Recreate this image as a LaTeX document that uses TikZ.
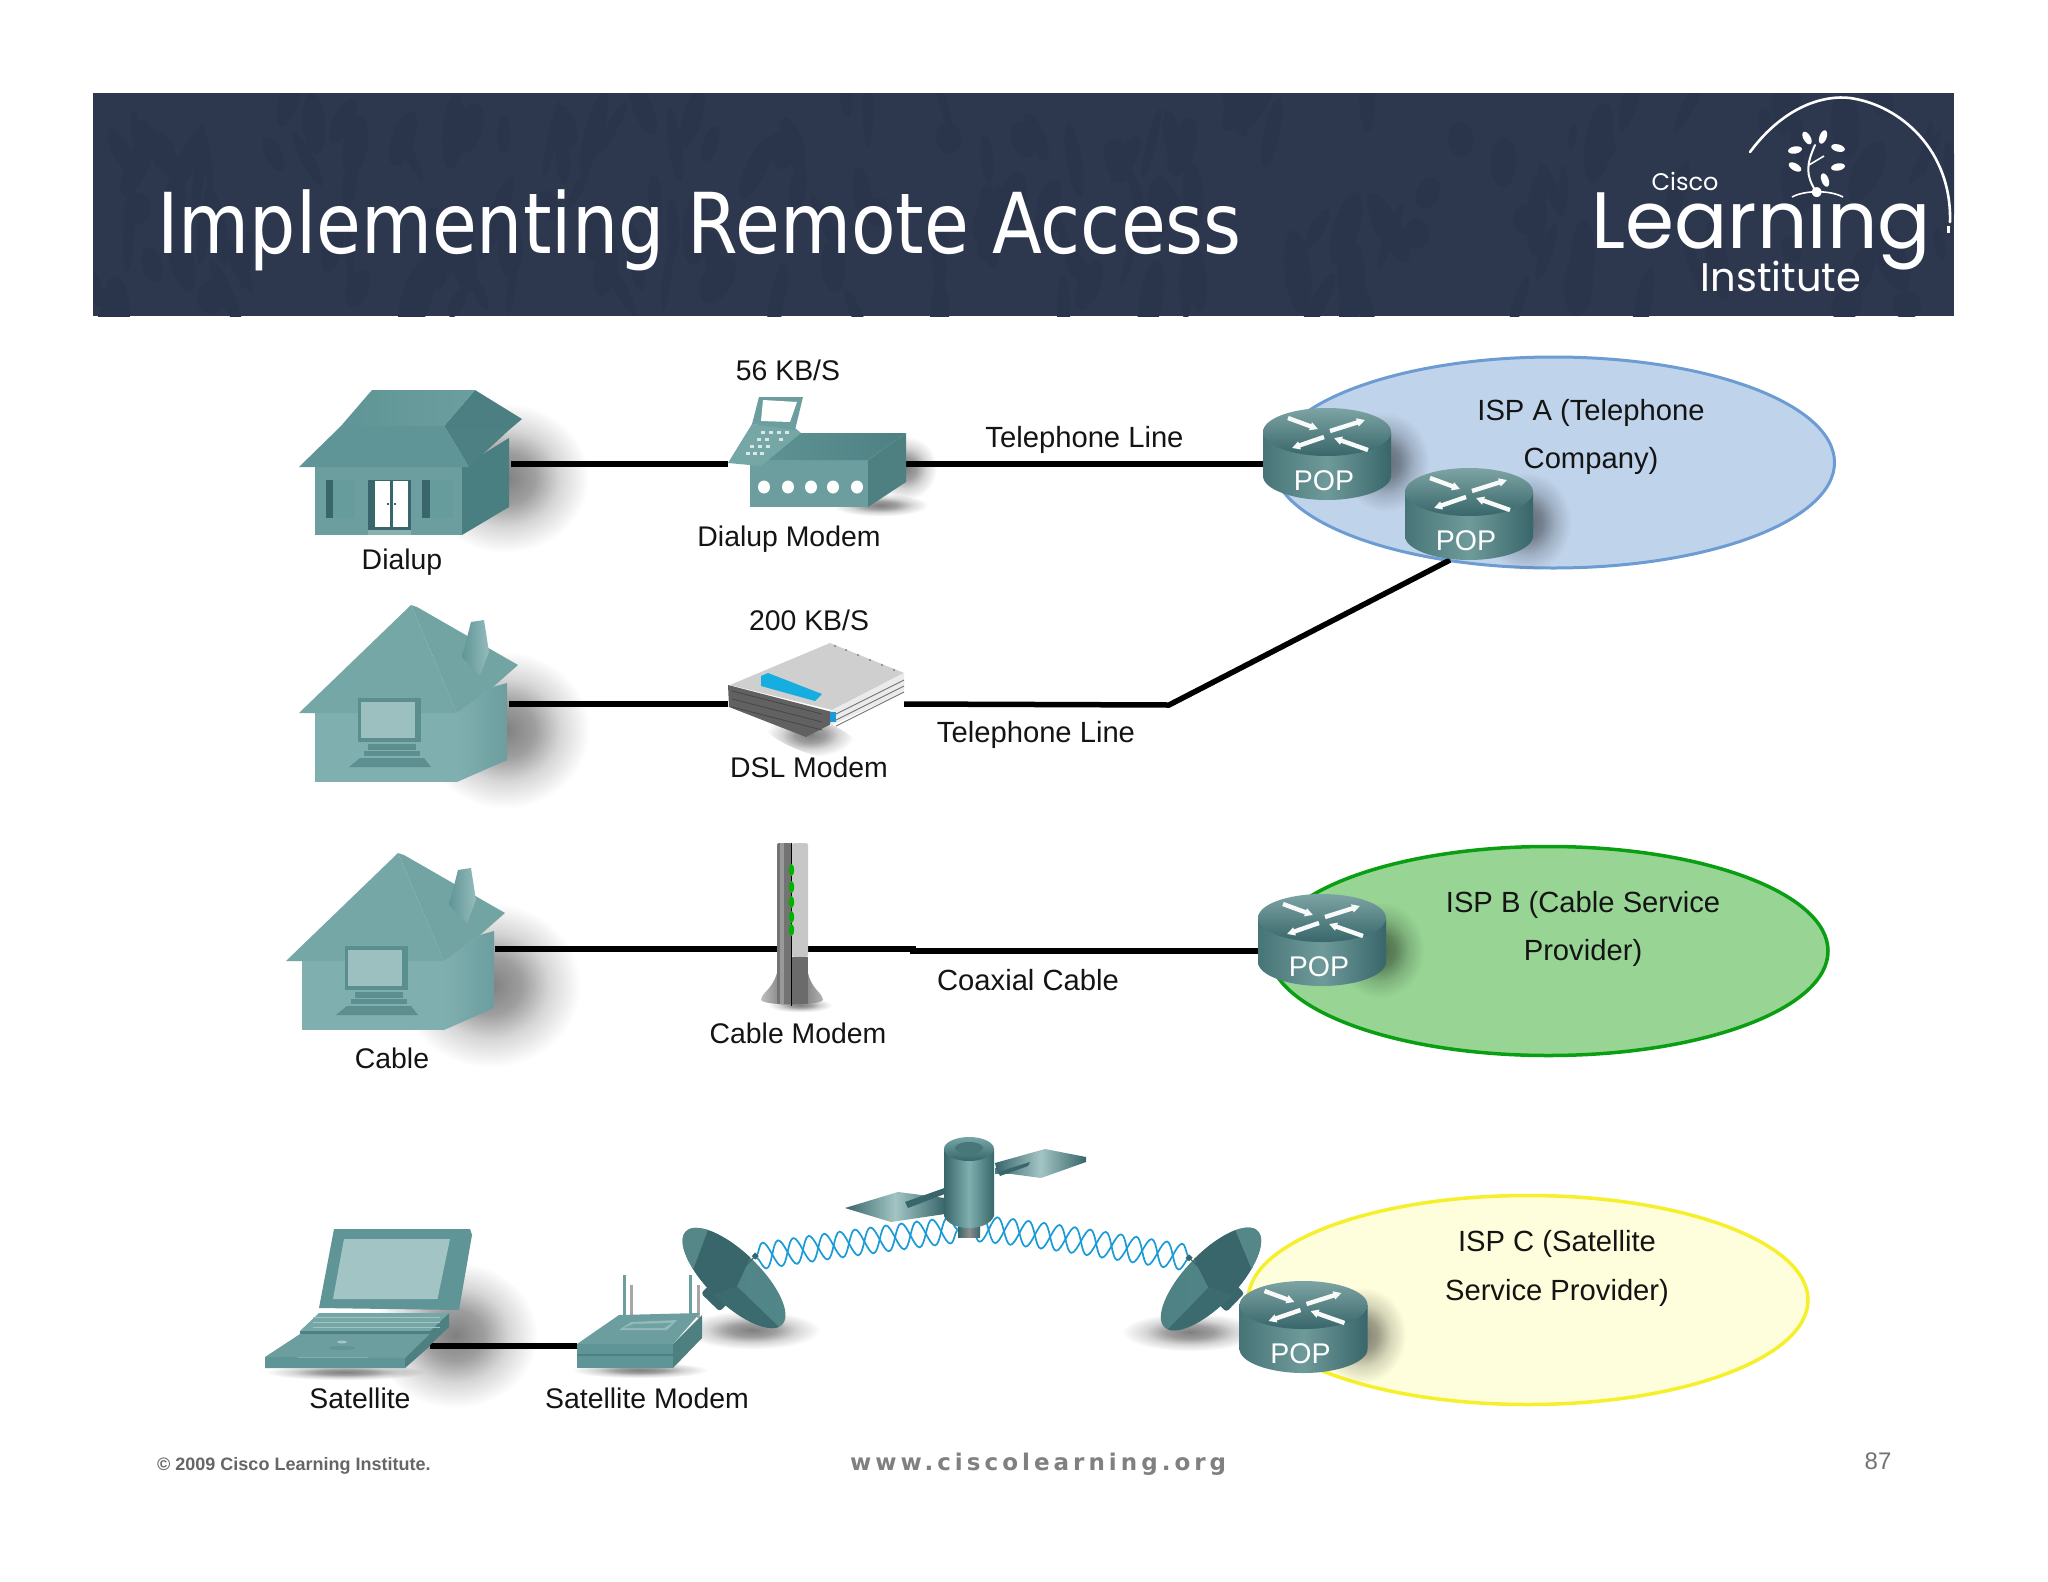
\documentclass[tikz,border=0pt]{standalone}
\usepackage{fontspec}
\setmainfont{Liberation Sans}
\newfontfamily\titlefont[FakeStretch=0.868]{DejaVu Sans}
\newfontfamily\logofont{Poppins}
\newfontfamily\learnfont[FakeStretch=0.987]{Poppins}
\newfontfamily\urlfont[LetterSpace=17.5]{DejaVu Sans}
\usetikzlibrary{arrows.meta,decorations.pathmorphing,fadings,shadings}
\pgfdeclareradialshading{softg}{\pgfpointorigin}{color(0bp)=(pgftransparent!50); color(7bp)=(pgftransparent!62); color(13bp)=(pgftransparent!84); color(20bp)=(pgftransparent!100); color(50bp)=(pgftransparent!100)}
\tikzfading[name=softblob, shading=softg]
\definecolor{hdr}{HTML}{2D384E}
\definecolor{hdrdark}{HTML}{2A344A}
\definecolor{tealA}{HTML}{5F9596}
\definecolor{tealB}{HTML}{6C9E9F}
\definecolor{tealC}{HTML}{4A7F81}
\definecolor{tealD}{HTML}{80AFAF}
\definecolor{tealE}{HTML}{76A7A7}
\definecolor{tealF}{HTML}{A3C4C4}
\definecolor{tealG}{HTML}{4E8082}
\definecolor{tealH}{HTML}{38666A}
\definecolor{rim}{HTML}{477577}
\definecolor{rimlight}{HTML}{6F9A9A}
\definecolor{wavec}{HTML}{1B9AD8}
\definecolor{ispAf}{HTML}{BFD3EA}
\definecolor{ispAs}{HTML}{6C9CD2}
\definecolor{ispBf}{HTML}{98D595}
\definecolor{ispBs}{HTML}{0A9E12}
\definecolor{ispCf}{HTML}{FEFEDC}
\definecolor{ispCs}{HTML}{F6F02C}
\newcommand{\softblob}[5]{\fill[black,path fading=softblob,rotate around={#5:(#1,#2)}] (#1,#2) ellipse [x radius=#3,y radius=#4];}
\newcommand{\cottageart}{%
  \fill[tealD] (315,713) -- (457,713) -- (457,782) -- (315,782) -- cycle;
  \shade[left color=tealD,right color=tealB] (457,713) -- (493,687) -- (507,683) -- (507,760) -- (457,782) -- cycle;
  \fill[tealE] (411,605) -- (299,713) -- (457,713) -- cycle;
  \fill[tealE!85!tealA] (417,607) -- (518,665) -- (493,687) -- (457,713) -- (411,605) -- cycle;
  \shade[left color=tealA,right color=tealF!60!tealD] (462,657) -- (471,622) -- (484,620) -- (489,652) -- (480,675) -- cycle;
  \fill[tealC!70!tealD] (358,698) -- (421,698) -- (421,742) -- (358,742) -- cycle;
  \fill[tealF!80!tealD] (361,702) -- (415,702) -- (415,738) -- (361,738) -- cycle;
  \fill[tealG!70!tealD] (368,744) -- (416,744) -- (416,750) -- (368,750) -- cycle;
  \fill[tealG!70!tealD] (364,751) -- (420,751) -- (420,756) -- (364,756) -- cycle;
  \fill[tealG!70!tealD] (349,767) -- (360,758) -- (424,758) -- (431,767) -- cycle;
}
\newcommand{\dishart}{%
  \fill[tealH,rounded corners=3pt] (-13,12) rectangle (13,34);
  \begin{scope}
    \clip (0,0) ellipse [x radius=67,y radius=26];
    \shade[left color=tealG,right color=tealC!60!tealA] (-70,-30) rectangle (70,30);
    \fill[tealH] (-60,-30) -- (-4,-30) -- (8,4) -- (-4,30) -- (-34,30) -- cycle;
    \fill[tealG!75!tealB] (-72,-30) -- (-58,-30) -- (-32,30) -- (-72,30) -- cycle;
    \fill[tealH!80!tealG] (8,4) -- (70,4) -- (70,30) -- (-4,30) -- cycle;
  \end{scope}
  \draw[tealH,line width=1pt] (0,4) -- (0,-30);
  \fill[tealH] (-2.5,-33) rectangle (2.5,-28);
}
\tikzset{
  lab/.style={inner sep=0pt,text=black!92,font=\fontsize{28.4}{30}\selectfont},
  labbig/.style={lab,font=\fontsize{29.2}{31}\selectfont},
  dev/.style={inner sep=0pt,minimum height=4pt},
  wire/.style={line width=5.5pt,black},
  wave/.style={wavec,line width=1.7pt,decorate,decoration={snake,segment length=31pt,amplitude=13pt}},
  ispA/.style={fill=ispAf,draw=ispAs,line width=3pt},
  ispB/.style={fill=ispBf,draw=ispBs,line width=3.5pt},
  ispC/.style={fill=ispCf,draw=ispCs,line width=3.5pt},
  rarrow/.style={white!92!tealF,line width=4.4pt,-{Triangle[length=8pt,width=8pt]}},
  router/.pic={
    \shade[left color=rim,right color=tealH,middle color=rimlight]
      (-64,24) -- (-64,68) .. controls (-64,81) and (-35,92) .. (0,92)
      .. controls (35,92) and (64,81) .. (64,68) -- (64,24) -- cycle;
    \shade[top color=rimlight!90!white,bottom color=tealH] (0,24) ellipse [x radius=64,y radius=24];
    \draw[rarrow] (-39,10) -- (-9,21);
    \draw[rarrow] (3,23) -- (38,12);
    \draw[rarrow] (-3,29) -- (-35,40);
    \draw[rarrow] (41,42) -- (7,30);
    \node[inner sep=0pt,text=white,font=\fontsize{28.5}{30}\selectfont] (-tag) at (-3,73) {POP};
  }
}
\begin{document}
\begin{tikzpicture}[x=1pt,y=-1pt]
\useasboundingbox (0,0) rectangle (2048,1582);
\fill[white] (0,0) rectangle (2048,1582);
% header
\fill[hdr] (93,93) rectangle (1954,316);
\begin{scope}
  \clip (93,93) rectangle (1954,316);
  \pgfmathsetseed{11}
  \foreach \i in {1,...,170}{
    \pgfmathsetmacro{\xa}{93+1861*rnd}
    \pgfmathsetmacro{\ya}{93+223*rnd}
    \pgfmathsetmacro{\ra}{4+11*rnd}
    \pgfmathsetmacro{\rb}{14+30*rnd}
    \pgfmathsetmacro{\an}{-30+60*rnd}
    \fill[hdrdark,rotate around={\an:(\xa,\ya)}] (\xa,\ya) ellipse [x radius=\ra,y radius=\rb];
  }
\end{scope}
\node[anchor=base west,inner sep=0pt,text=white,font=\titlefont\fontsize{84}{90}\selectfont] (title) at (157,253) {Implementing Remote Access};
% logo
\node[inner sep=0pt,text=white,font=\logofont\fontsize{24}{26}\selectfont] (lgCisco) at (1685,181) {Cisco};
\node[anchor=base west,inner sep=0pt,text=white,font=\learnfont\fontsize{80}{86}\selectfont] (lgLearn) at (1591,248) {Learning};
\node[inner sep=0pt,text=white,font=\logofont\fontsize{40}{44}\selectfont] (lgInst) at (1781,276) {Institute};
\draw[white,line width=2.6pt,line cap=round] (1750,152) .. controls (1785,105) and (1825,95) .. (1850,98) .. controls (1900,105) and (1952,150) .. (1950,222);
\fill[white] (1947,226) rectangle (1950,233);
\draw[white,line width=2pt,line cap=round] (1815,145) .. controls (1806,165) and (1806,175) .. (1815,190);
\draw[white,line width=1.6pt] (1809,165) -- (1824,156);
\draw[white,line width=1.6pt] (1792,197) .. controls (1805,190) and (1830,190) .. (1843,197);
\foreach \lx/\ly/\lr in {1807/138/-60,1823/137/-110,1795/150/10,1838/148/-15,1795/167/-30,1838/167/10,1825/180/-70}{
  \fill[white,rotate around={\lr:(\lx,\ly)}] (\lx,\ly) ellipse [x radius=7,y radius=3.6];
}
% ISP ellipses
\draw[ispA] (1553.5,462.5) ellipse [x radius=281,y radius=105.5];
\draw[ispB] (1548.5,951) ellipse [x radius=279.5,y radius=104.5];
\draw[ispC] (1528,1300) ellipse [x radius=280,y radius=104.5];
% placement nodes
\node[dev,minimum width=196pt] (house1) at (413,464) {};
\node[dev,minimum width=178pt] (dialmodem) at (817,464) {};
\node[dev,minimum width=126pt] (pop1) at (1327,464) {};
\node[dev,minimum width=194pt] (house2) at (412,704) {};
\node[dev,minimum width=176pt] (dslmodem) at (816,704) {};
\node[dev,minimum width=194pt] (house3) at (398,949) {};
\node[dev,minimum width=31pt] (cablemodem) at (792.5,949) {};
\node[dev,minimum width=126pt] (pop3) at (1322,951) {};
\node[dev,minimum width=165pt] (laptop) at (347.5,1346) {};
\node[dev,minimum width=125pt] (satmodem) at (640,1346) {};
\coordinate (bend) at (1169,705);
\coordinate (pop2port) at (1450,560);
\coordinate (jogA) at (913,949);
\coordinate (jogB) at (913,951);
\coordinate (feedL) at (755,1257);
\coordinate (satL) at (972,1228);
\coordinate (satR) at (966,1228);
\coordinate (feedR) at (1190,1258);
% shadows
\softblob{505}{478}{95}{80}{-20}
\softblob{505}{730}{95}{85}{-20}
\softblob{490}{985}{105}{85}{-35}
\softblob{455}{1335}{95}{75}{-30}
\softblob{905}{468}{40}{40}{0}
\softblob{880}{505}{60}{14}{0}
\softblob{810}{735}{55}{18}{-20}
\softblob{800}{1005}{40}{9}{0}
\softblob{640}{1370}{85}{10}{0}
\softblob{345}{1372}{100}{10}{0}
\softblob{752}{1330}{85}{24}{0}
\softblob{1190}{1332}{85}{24}{0}
\softblob{1385}{462}{55}{62}{0}
\softblob{1527}{522}{55}{62}{0}
\softblob{1380}{950}{55}{60}{0}
\softblob{1362}{1335}{55}{60}{0}
% connectors
\draw[wire] (house1.east) -- (dialmodem.west);
\draw[wire] (dialmodem.east) -- (pop1.west);
\draw[wire] (house2.east) -- (dslmodem.west);
\draw[wire] (dslmodem.east) -- (bend) -- (pop2port);
\draw[wire] (house3.east) -- (cablemodem.west);
\draw[wire] (cablemodem.east) -- (jogA) -- (jogB) -- (pop3.west);
\draw[wire] (laptop.east) -- (satmodem.west);
\draw[wave] (feedL) .. controls (820,1247) and (890,1238) .. (satL);
\draw[wave,decoration={mirror}] (feedL) .. controls (820,1247) and (890,1238) .. (satL);
\draw[wave] (feedR) .. controls (1120,1248) and (1050,1234) .. (satR);
\draw[wave,decoration={mirror}] (feedR) .. controls (1120,1248) and (1050,1234) .. (satR);
% house 1
\fill[tealB] (315,467) -- (462,467) -- (462,535) -- (315,535) -- cycle;
\fill[tealC] (462,467) -- (509,438) -- (509,507) -- (462,535) -- cycle;
\shade[top color=tealC,bottom color=tealG] (475,390) -- (522,419) -- (509,430) -- (469,467) -- (444,426) -- cycle;
\shade[left color=tealA,right color=tealB] (372,390) -- (475,390) -- (444,426) -- (341,426) -- cycle;
\fill[tealA] (341,426) -- (444,426) -- (469,467) -- (299,467) -- cycle;
\fill[tealH] (368,480) rectangle (411,530);
\fill[white] (375,481) rectangle (390,527);
\fill[white] (393,481) rectangle (408,527);
\fill[tealH] (387,503) rectangle (389,505);
\fill[tealH] (394,503) rectangle (396,505);
\fill[tealF!50!tealB] (368,530) rectangle (411,535);
\fill[tealA!75!tealD] (333,480) rectangle (355,518);
\fill[tealH] (326,480) rectangle (333,518);
\fill[tealA!75!tealD] (430,480) rectangle (453,518);
\fill[tealH] (422,480) rectangle (430,518);
% cottages
\cottageart
\begin{scope}[shift={(-13,248)}]
  \cottageart
\end{scope}
% dialup modem
\fill[tealB] (750,460) rectangle (868,507);
\fill[tealG] (868,460) -- (906,433) -- (906,482) -- (868,507) -- cycle;
\shade[left color=tealA,right color=tealG] (750,460) -- (792,433) -- (906,433) -- (868,460) -- cycle;
\foreach \dx in {764,788,811,833,857}{ \fill[white] (\dx,487) ellipse [x radius=6,y radius=6.5]; }
\fill[tealE] (728,463) -- (761,466) -- (801,433) -- (795,428) -- (752,424) -- cycle;
\fill[tealB] (752,424) -- (759,397) -- (803,397) -- (795,430) -- cycle;
\fill[white] (763,400) -- (797,402) -- (790,422) -- (761,421) -- cycle;
\foreach \bx/\by in {761/431,769/431,777/431,785/431,757/438,765/438,779/438,750/445,758/445,766/445,746/452,753/452,760/452}{
  \fill[white!80!tealG] (\bx,\by) rectangle +(4,3);
}
% DSL modem
\fill[black!19] (830,643) -- (904,673) -- (832,710) -- (730,685) -- cycle;
\fill[wavec!80!cyan] (761,676) -- (768,673) -- (822,694) -- (815,701) -- (761,686) -- cycle;
\fill[black!62] (728,685) -- (832,712) -- (835,722) -- (806,737) -- (729,707) -- cycle;
\fill[black!8] (832,710) -- (904,673) -- (904,692) -- (830,726) -- cycle;
\foreach \sy in {680,686,692}{ \draw[black!55,line width=.9pt] (904,\sy) -- (836,\sy+34); }
\foreach \sy in {694,702,710}{ \draw[black!72,line width=.8pt] (732,\sy-3) -- (822,\sy+20); }
\fill[wavec] (830,712) rectangle (836,722);
\foreach \dotx/\doty in {835/646,846/650,858/655,870/660,882/665,894/670}{ \fill[black!50] (\dotx,\doty) circle [radius=1.2]; }
% cable modem
\shade[left color=black!25,right color=black!30,middle color=black!62] (777,973) .. controls (772,990) and (762,992) .. (761,1000) .. controls (764,1006) and (820,1006) .. (823,1000) .. controls (822,992) and (812,990) .. (808,973) -- cycle;
\fill[black!55,rounded corners=2pt] (777,843) rectangle (791.5,1004);
\fill[black!22,rounded corners=2pt] (792,843) rectangle (808,957);
\fill[black!58] (792,957) rectangle (808,1004);
\fill[black!40] (780,843) rectangle (784,1004);
\draw[black,line width=1.4pt] (791.5,843) -- (791.5,1006);
\foreach \gy in {870,887,902,917,930}{ \fill[green!70!black] (791.5,\gy) ellipse [x radius=2.6,y radius=6]; }
% laptop
\fill[tealG] (449,1313) -- (449,1327) -- (430,1345) -- (430,1313) -- cycle;
\fill[tealE] (319,1313) -- (449,1313) -- (430,1331) -- (300,1331) -- cycle;
\fill[tealG] (300,1331) rectangle (430,1335);
\foreach \ky in {1317,1322,1327}{ \draw[tealF,line width=.9pt] (313,\ky) -- (440,\ky); }
\fill[tealB] (300,1334) -- (430,1334) -- (405,1358) -- (265,1357) -- cycle;
\fill[tealA] (265,1357) -- (405,1358) -- (405,1368) -- (265,1368) -- cycle;
\fill[tealG] (405,1358) -- (430,1334) -- (430,1346) -- (405,1368) -- cycle;
\fill[tealF] (342,1342) ellipse [x radius=5,y radius=1.5];
\fill[tealA] (342,1348) ellipse [x radius=13,y radius=2];
\fill[tealA] (334,1229) -- (470,1229) -- (472,1235) -- (459,1310) -- (319,1308) -- cycle;
\fill[tealF] (344,1239) -- (450,1239) -- (437.5,1299) -- (333,1299) -- cycle;
% satellite modem antennas, then body
\foreach \ax/\ay/\ac in {624/1275/tealB,631/1285/black!35,690/1275/tealB,698/1285/black!35}{
  \draw[\ac,line width=3pt] (\ax,\ay) -- (\ax,1318);
}
\fill[tealB] (577,1344) -- (619,1315) -- (700,1313) -- (673,1344) -- cycle;
\fill[tealF!70!tealB] (619,1330) -- (631,1322) -- (677,1320) -- (667,1330) -- cycle;
\fill[tealB!90!tealF] (624,1328) -- (633,1324) -- (672,1323) -- (664,1328) -- cycle;
\fill[tealA] (577,1344) rectangle (673,1368);
\fill[tealG] (577,1354) rectangle (673,1356);
\fill[tealG] (673,1344) -- (702,1315) -- (702,1338) -- (673,1368) -- cycle;
% dish 1
\begin{scope}[shift={(734,1278)},rotate=-44]
  \dishart
\end{scope}
% dish 2
\begin{scope}[shift={(1211,1279)},rotate=46,xscale=-1]
  \dishart
\end{scope}
% satellite
\fill[tealG] (995,1168) rectangle (1010,1174);
\shade[left color=tealH,right color=tealH,middle color=tealF] (1041,1178) -- (997,1172) -- (995,1163) -- (1045,1149) -- (1086,1157) -- (1086,1162) -- cycle;
\fill[tealH] (998,1172) -- (1030,1162) -- (1028,1166) -- (1000,1176) -- cycle;
\shade[left color=tealH,right color=tealH,middle color=tealF] (845,1208) -- (898,1192) -- (945,1198) -- (945,1214) -- (891,1222) -- cycle;
\fill[tealH] (905,1202) -- (950,1186) -- (950,1192) -- (908,1208) -- cycle;
\shade[left color=tealH,right color=tealH,middle color=black!45] (958,1225) rectangle (980,1237);
\shade[left color=tealH,right color=tealH,middle color=tealD] (944,1149) -- (944,1216) .. controls (950,1232) and (988,1232) .. (994,1216) -- (994,1149) -- cycle;
\shade[top color=tealE,bottom color=tealH] (969,1149) ellipse [x radius=25,y radius=12];
\fill[tealH!70!tealB] (969,1148) ellipse [x radius=14,y radius=6];
% routers
\pic (popa) at (1327,408) {router};
\pic (popb) at (1469,468) {router};
\pic (popc) at (1322,894) {router};
\pic (popd) at (1303.5,1281) {router};
% labels
\node[lab] (t56) at (788,370) {56 KB/S};
\node[lab] (tDialM) at (789,539.5) {Dialup Modem};
\node[lab] (tDial) at (402,562) {Dialup};
\node[lab] (t200) at (809,620) {200 KB/S};
\node[lab] (tDSL) at (809,767) {DSL Modem};
\node[labbig] (tTel1) at (1084.5,439.5) {Telephone Line};
\node[labbig] (tTel2) at (1036,735) {Telephone Line};
\node[labbig] (tCoax) at (1028,980) {Coaxial Cable};
\node[lab] (tCable) at (392,1058) {Cable};
\node[lab] (tCableM) at (798,1033) {Cable Modem};
\node[lab] (tSat) at (360,1398) {Satellite};
\node[lab] (tSatM) at (647,1398) {Satellite Modem};
\node[labbig] (ispa1) at (1591,413) {ISP A (Telephone};
\node[labbig] (ispa2) at (1591,461) {Company)};
\node[labbig] (ispb1) at (1583,905) {ISP B (Cable Service};
\node[labbig] (ispb2) at (1583,953) {Provider)};
\node[labbig] (ispc1) at (1557,1244) {ISP C (Satellite};
\node[labbig] (ispc2) at (1557,1292.5) {Service Provider)};
% footer
\node[anchor=west,inner sep=0pt,text=black!60,font=\bfseries\fontsize{18}{20}\selectfont] (copy) at (157,1466) {© 2009 Cisco Learning Institute.};
\node[anchor=west,inner sep=0pt,text=black!50,font=\urlfont\bfseries\fontsize{23}{25}\selectfont] (url) at (850,1464) {www.ciscolearning.org};
\node[inner sep=0pt,text=black!55,font=\fontsize{24}{26}\selectfont] (pageno) at (1878,1461) {87};
\end{tikzpicture}
\end{document}
